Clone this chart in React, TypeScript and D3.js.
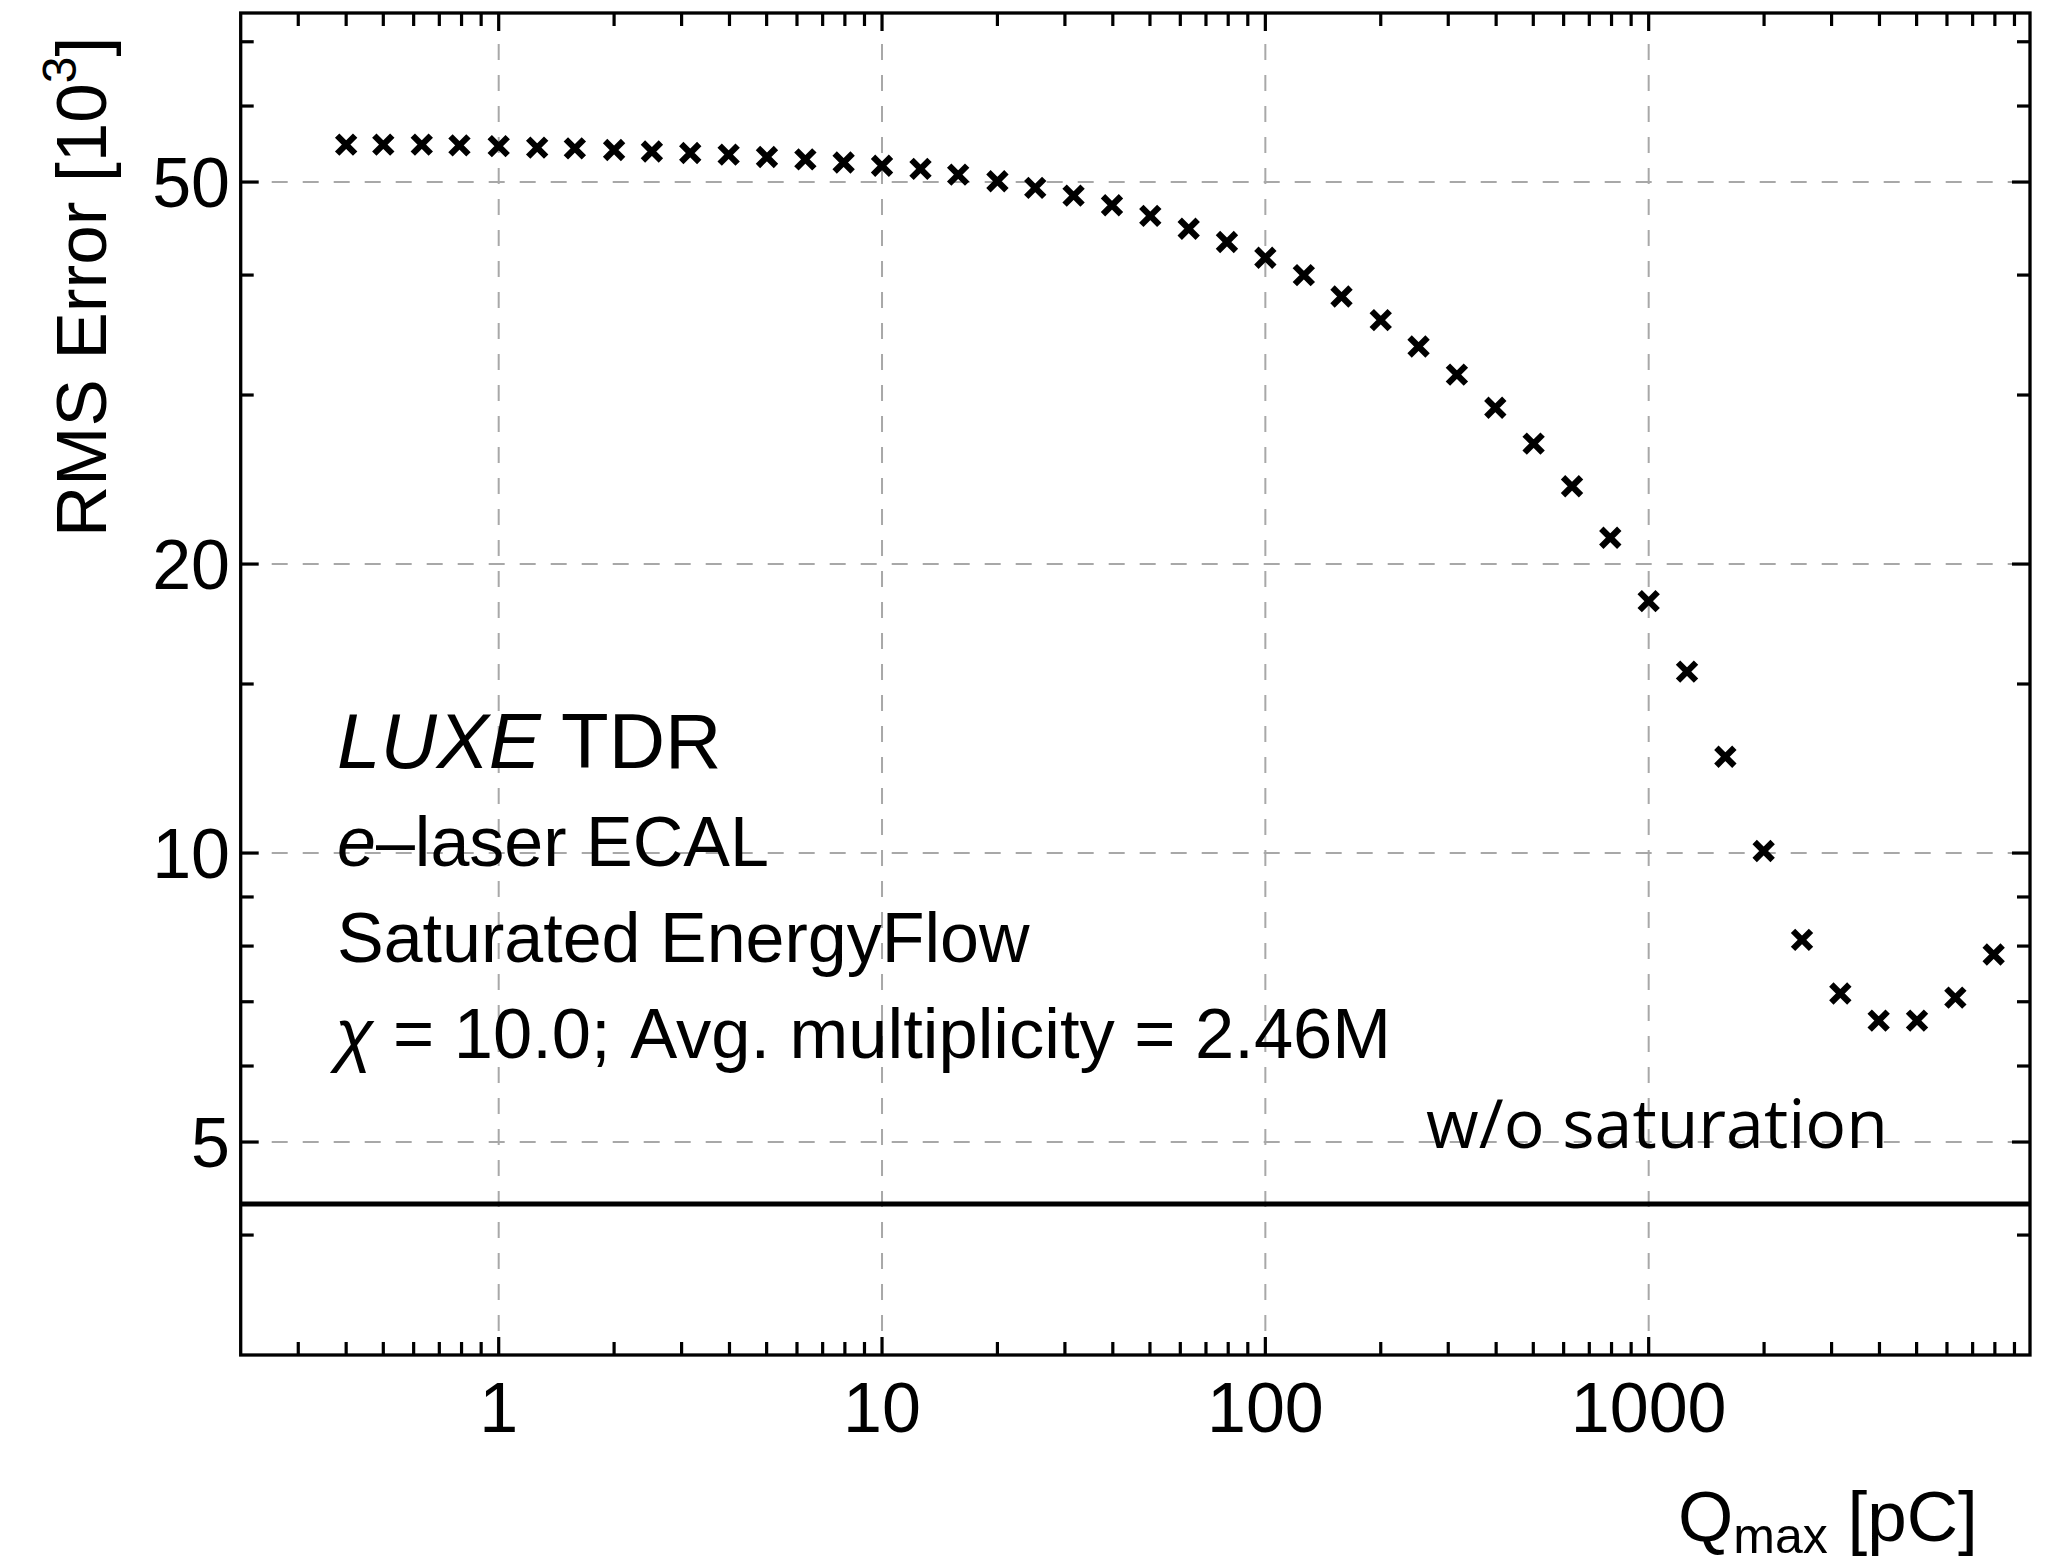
import React from 'react';
import * as d3 from 'd3';

// ---- Data ----
const Q_MAX = [
  0.4, 0.5, 0.63, 0.79, 1.0, 1.26, 1.58, 2.0, 2.51, 3.16,
  3.98, 5.01, 6.31, 7.94, 10, 12.6, 15.8, 20, 25.1, 31.6,
  39.8, 50.1, 63.1, 79.4, 100, 126, 158, 200, 251, 316,
  398, 501, 631, 794, 1000, 1259, 1585, 1995, 2512, 3162,
  3981, 5012, 6310, 7943,
];
const RMS_ERROR = [
  54.7, 54.7, 54.7, 54.6, 54.5, 54.3, 54.2, 54.0, 53.8, 53.6,
  53.4, 53.1, 52.8, 52.4, 52.0, 51.6, 50.9, 50.1, 49.3, 48.4,
  47.3, 46.1, 44.7, 43.3, 41.7, 40.0, 38.0, 35.9, 33.7, 31.5,
  29.1, 26.7, 24.1, 21.3, 18.3, 15.45, 12.6, 10.05, 8.12, 7.14,
  6.69, 6.69, 7.07, 7.84,
];
const NO_SATURATION_LEVEL = 4.31;

const X_MAJOR = [1, 10, 100, 1000];
const X_MAJOR_LABELS = ['1', '10', '100', '1000'];
const X_MINOR = [
  0.3, 0.4, 0.5, 0.6, 0.7, 0.8, 0.9,
  2, 3, 4, 5, 6, 7, 8, 9,
  20, 30, 40, 50, 60, 70, 80, 90,
  200, 300, 400, 500, 600, 700, 800, 900,
  2000, 3000, 4000, 5000, 6000, 7000, 8000, 9000,
];
const Y_MAJOR = [5, 10, 20, 50];
const Y_MAJOR_LABELS = ['5', '10', '20', '50'];
const Y_MINOR = [4, 6, 7, 8, 9, 15, 30, 40, 60, 70];

const X_DOMAIN = [0.2123, 9880];
const Y_DOMAIN = [3, 75];

const TEXT_LINES = ['e–laser ECAL', 'Saturated EnergyFlow'];

export default function App() {
  const W = 2060;
  const H = 1559;
  const L = 240.7;
  const R = 2030;
  const T = 13;
  const B = 1355;

  const x = d3.scaleLog().domain(X_DOMAIN).range([L, R]);
  const y = d3.scaleLog().domain(Y_DOMAIN).range([B, T]);

  const font = "'Liberation Sans', Arial, Helvetica, sans-serif";
  const majorLen = 18;
  const minorLen = 13;
  const tickW = 3.2;
  const gridStyle = { stroke: '#a8a8a8', strokeWidth: 2, strokeDasharray: '16 15' };

  const a = 9;
  const markerPath = `M${-a},${-a}L${a},${a}M${-a},${a}L${a},${-a}`;

  return (
    <svg
      width={W}
      height={H}
      viewBox={`0 0 ${W} ${H}`}
      style={{ position: 'absolute', left: 0, top: 0, background: '#fff' }}
    >
      <rect x={0} y={0} width={W} height={H} fill="#fff" />
      <defs>
        <clipPath id="plot-clip">
          <rect x={L} y={T} width={R - L} height={B - T} />
        </clipPath>
      </defs>

      {/* grid */}
      <g clipPath="url(#plot-clip)">
        {X_MAJOR.map((v) => (
          <line key={`gx${v}`} x1={x(v)} x2={x(v)} y1={T} y2={B} {...gridStyle} />
        ))}
        {Y_MAJOR.map((v) => (
          <line key={`gy${v}`} x1={L} x2={R} y1={y(v)} y2={y(v)} {...gridStyle} />
        ))}
      </g>

      {/* reference line: w/o saturation */}
      <line
        x1={L}
        x2={R}
        y1={y(NO_SATURATION_LEVEL)}
        y2={y(NO_SATURATION_LEVEL)}
        stroke="#000"
        strokeWidth={5}
      />

      {/* markers */}
      <g clipPath="url(#plot-clip)">
        {Q_MAX.map((q, i) => (
          <path
            key={`m${i}`}
            d={markerPath}
            transform={`translate(${x(q)},${y(RMS_ERROR[i])})`}
            stroke="#000"
            strokeWidth={6.2}
            fill="none"
          />
        ))}
      </g>

      {/* ticks */}
      <g stroke="#000" strokeWidth={tickW}>
        {X_MAJOR.map((v) => (
          <g key={`xt${v}`}>
            <line x1={x(v)} x2={x(v)} y1={B} y2={B - majorLen} />
            <line x1={x(v)} x2={x(v)} y1={T} y2={T + majorLen} />
          </g>
        ))}
        {X_MINOR.map((v) => (
          <g key={`xm${v}`}>
            <line x1={x(v)} x2={x(v)} y1={B} y2={B - minorLen} />
            <line x1={x(v)} x2={x(v)} y1={T} y2={T + minorLen} />
          </g>
        ))}
        {Y_MAJOR.map((v) => (
          <g key={`yt${v}`}>
            <line x1={L} x2={L + majorLen} y1={y(v)} y2={y(v)} />
            <line x1={R} x2={R - majorLen} y1={y(v)} y2={y(v)} />
          </g>
        ))}
        {Y_MINOR.map((v) => (
          <g key={`ym${v}`}>
            <line x1={L} x2={L + minorLen} y1={y(v)} y2={y(v)} />
            <line x1={R} x2={R - minorLen} y1={y(v)} y2={y(v)} />
          </g>
        ))}
      </g>

      {/* frame */}
      <rect x={L} y={T} width={R - L} height={B - T} fill="none" stroke="#000" strokeWidth={3.3} />

      {/* tick labels */}
      <g fontFamily={font} fontSize={70} fill="#000">
        {X_MAJOR.map((v, i) => (
          <text key={`xl${v}`} x={x(v)} y={1432} textAnchor="middle">
            {X_MAJOR_LABELS[i]}
          </text>
        ))}
        {Y_MAJOR.map((v, i) => (
          <text key={`yl${v}`} x={230} y={y(v) + 25} textAnchor="end">
            {Y_MAJOR_LABELS[i]}
          </text>
        ))}
      </g>

      {/* axis labels */}
      <text x={1678} y={1541} fontFamily={font} fontSize={71} fill="#000">
        Q
        <tspan fontSize={50} dy={12}>max</tspan>
        <tspan dy={-12}> [pC]</tspan>
      </text>
      <text
        transform="translate(106,537) rotate(-90)"
        fontFamily={font}
        fontSize={71}
        fill="#000"
        textAnchor="start"
      >
        RMS Error [10
        <tspan fontSize={48} dy={-30}>3</tspan>
        <tspan dy={30}>]</tspan>
      </text>

      {/* annotations */}
      <g fontFamily={font} fill="#000">
        <text x={337} y={768} fontSize={78}>
          <tspan fontStyle="italic">LUXE</tspan> TDR
        </text>
        <text x={337} y={866} fontSize={70}>
          <tspan fontStyle="italic">e</tspan>
          {TEXT_LINES[0].slice(1)}
        </text>
        <text x={337} y={962} fontSize={70}>
          {TEXT_LINES[1]}
        </text>
        <text x={335} y={1058} fontSize={70.5}>
          <tspan fontStyle="italic">χ</tspan> = 10.0; Avg. multiplicity = 2.46M
        </text>
      </g>

      <text
        x={1426}
        y={1148}
        fontFamily="'Open Sans', 'DejaVu Sans', sans-serif"
        fontSize={68}
        fill="#000"
      >
        w/o saturation
      </text>
    </svg>
  );
}
